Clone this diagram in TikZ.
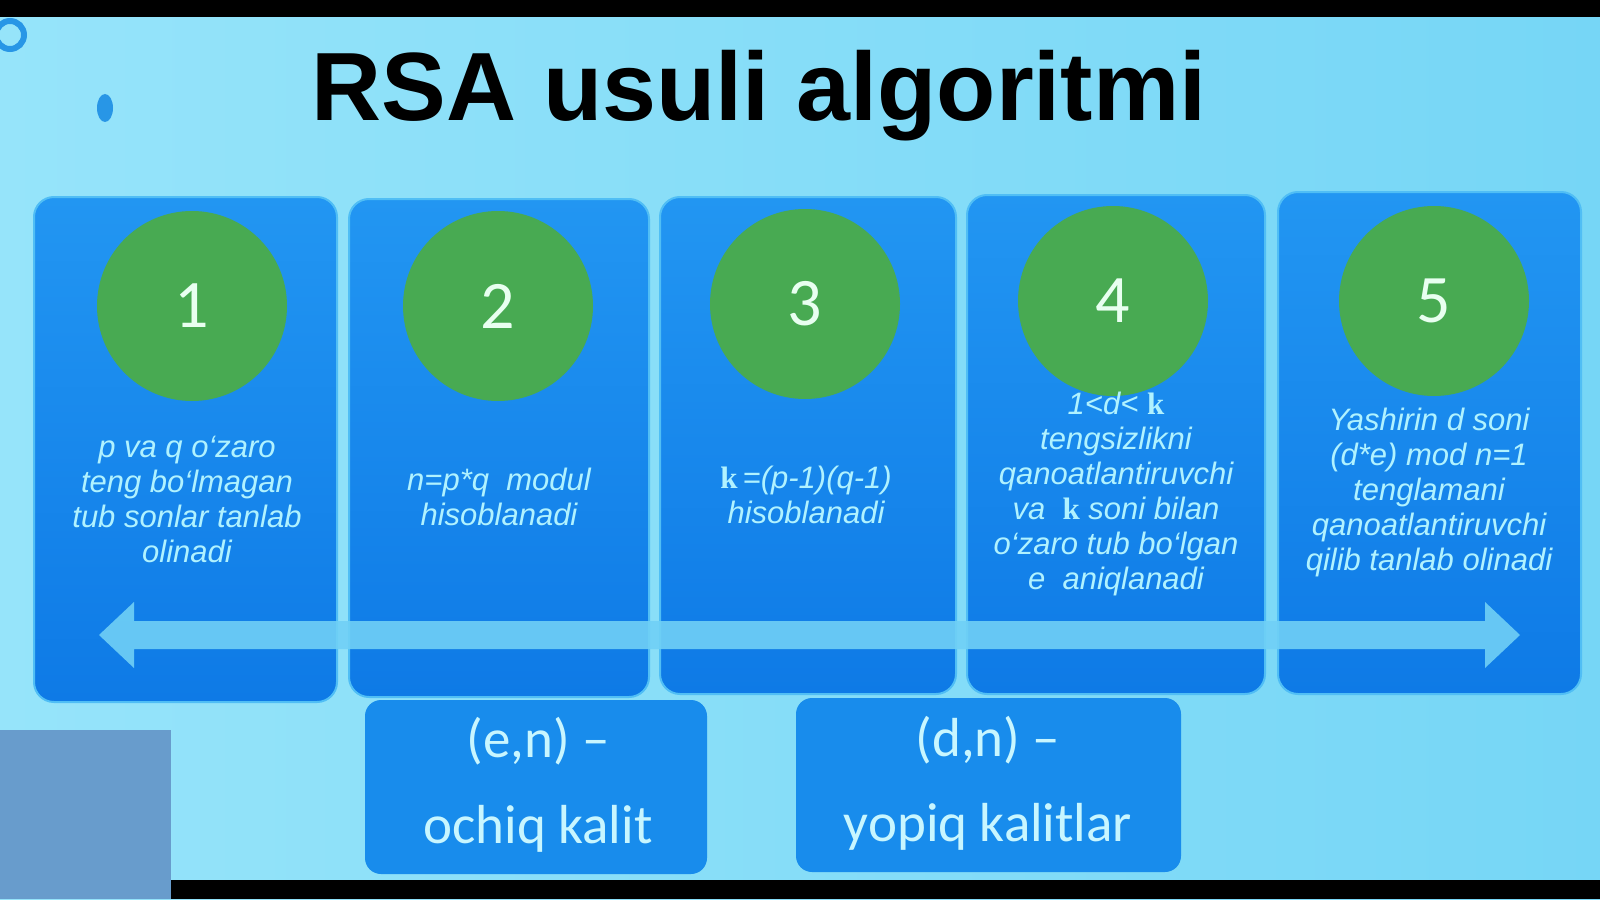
\documentclass[tikz,border=0pt]{standalone}
\usepackage{fontspec}
\setmainfont{Liberation Sans}
\newfontfamily\calfont{Carlito}
\newfontfamily\kfont{Liberation Serif}
\definecolor{bgl}{RGB}{150,228,250}
\definecolor{bgr}{RGB}{118,214,246}
\definecolor{boxtop}{RGB}{34,150,242}
\definecolor{boxbot}{RGB}{14,122,230}
\definecolor{boxedge}{RGB}{80,190,245}
\definecolor{numgreen}{RGB}{72,170,82}
\definecolor{numwhite}{RGB}{232,255,240}
\definecolor{desccol}{RGB}{176,242,255}
\definecolor{keyblue}{RGB}{24,140,236}
\definecolor{keytext}{RGB}{200,246,255}
\definecolor{arrowcol}{RGB}{112,208,246}
\definecolor{greyblue}{RGB}{104,156,204}
\definecolor{dropblue}{RGB}{40,150,230}
\begin{document}
\begin{tikzpicture}[x=0.5pt,y=-0.5pt,
  stepbox/.style={rounded corners=10pt, top color=boxtop, bottom color=boxbot, draw=boxedge, line width=1pt, inner sep=0pt},
  numc/.style={circle, fill=numgreen, minimum size=95pt, inner sep=0pt, text=numwhite, font=\calfont\fontsize{34}{34}\selectfont},
  desc/.style={text=desccol, align=center, font=\itshape\fontsize{15.5}{17.5}\selectfont, inner sep=0pt},
  keybox/.style={rounded corners=8pt, fill=keyblue, inner sep=0pt},
  keytxt/.style={text=keytext, font=\calfont\fontsize{27.5}{27.5}\selectfont, anchor=base, inner sep=0pt}]
\useasboundingbox (0,0) rectangle (1600,899);
% background
\shade[left color=bgl, right color=bgr] (0,0) rectangle (1600,899);
\fill[black] (0,0) rectangle (1600,17);
\fill[black] (170,880) rectangle (1600,899);
\fill[greyblue] (0,730) rectangle (171,899);
\draw[dropblue, line width=3pt] (10,35) circle[radius=14];
\fill[dropblue] (105,108) ellipse[x radius=8, y radius=14];
% title
\node[anchor=base, inner sep=0pt, font=\bfseries\fontsize{48.5}{48.5}\selectfont] (title) at (759,120) {RSA usuli algoritmi};
% step boxes
\node[stepbox, minimum width=151.5pt, minimum height=252.5pt] (b1) at (185.5,449.5) {};
\node[stepbox, minimum width=150pt, minimum height=249pt] (b2) at (499,448) {};
\node[stepbox, minimum width=148pt, minimum height=248.5pt] (b3) at (808,445.5) {};
\node[stepbox, minimum width=149pt, minimum height=249.5pt] (b4) at (1116,444.5) {};
\node[stepbox, minimum width=151.5pt, minimum height=251pt] (b5) at (1429.5,443) {};
% number circles
\node[numc] (c1) at (192,306) {1};
\node[numc] (c2) at (498,306) {2};
\node[numc] (c3) at (805,304) {3};
\node[numc] (c4) at (1113,301) {4};
\node[numc] (c5) at (1434,301) {5};
% descriptions
\node[desc] (t1) at (187,499) {p va q o‘zaro\\teng bo‘lmagan\\tub sonlar tanlab\\olinadi};
\node[desc] (t2) at (499,497) {n=p*q\ \ modul\\hisoblanadi};
\node[desc] (t3) at (806,495) {{\upshape\kfont\bfseries k}\,=(p-1)(q-1)\\hisoblanadi};
\node[desc] (t4) at (1116,494) {1<d< {\upshape\kfont\bfseries k}\\tengsizlikni\\qanoatlantiruvchi\\va\ \ {\upshape\kfont\bfseries k} soni bilan\\o‘zaro tub bo‘lgan\\e\ \ aniqlanadi};
\node[desc] (t5) at (1429,492) {Yashirin d soni\\(d*e) mod n=1\\tenglamani\\qanoatlantiruvchi\\qilib tanlab olinadi};
% double arrow
\fill[arrowcol, opacity=0.9] (99,635) -- (134,602) -- (134,621) -- (1485,621) -- (1485,602) -- (1520,635) -- (1485,668) -- (1485,649) -- (134,649) -- (134,668) -- cycle;
% key boxes
\node[keybox, minimum width=171pt, minimum height=87pt] (kA) at (536,787) {};
\node[keybox, minimum width=192.5pt, minimum height=87pt] (kB) at (988.5,785) {};
\node[keytxt] (kA1) at (538,757) {(e,n) –};
\node[keytxt] (kA2) at (538,843) {ochiq kalit};
\node[keytxt] (kB1) at (988,756) {(d,n) –};
\node[keytxt] (kB2) at (988,841) {yopiq kalitlar};
\end{tikzpicture}
\end{document}
